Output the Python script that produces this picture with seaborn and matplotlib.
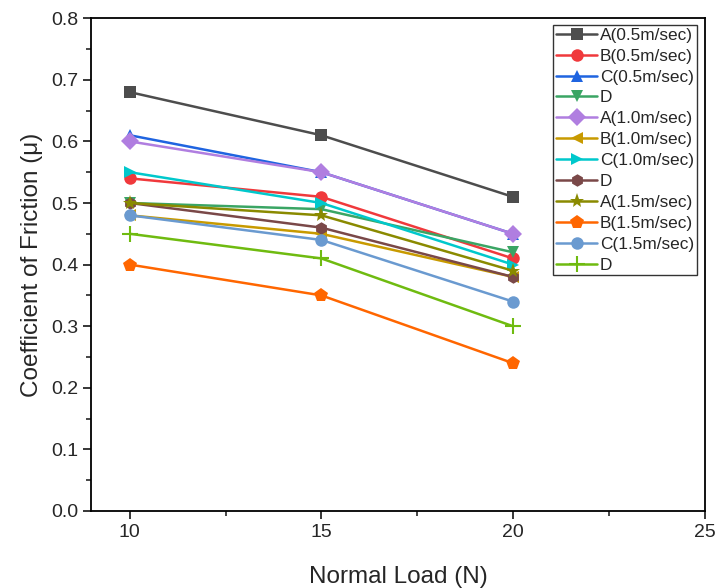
import pandas as pd
import matplotlib
matplotlib.use("Agg")
from matplotlib import pyplot as plt
import seaborn as sns

# chart data
loads = [10, 15, 20]
labels = ['A(0.5m/sec)', 'B(0.5m/sec)', 'C(0.5m/sec)', 'D',
          'A(1.0m/sec)', 'B(1.0m/sec)', 'C(1.0m/sec)', 'D',
          'A(1.5m/sec)', 'B(1.5m/sec)', 'C(1.5m/sec)', 'D']
a_05 = [0.68, 0.61, 0.51]
b_05 = [0.54, 0.51, 0.41]
c_05 = [0.61, 0.55, 0.45]
d_05 = [0.50, 0.49, 0.42]
a_10 = [0.60, 0.55, 0.45]
b_10 = [0.48, 0.45, 0.38]
c_10 = [0.55, 0.50, 0.40]
d_10 = [0.50, 0.46, 0.38]
a_15 = [0.50, 0.48, 0.39]
b_15 = [0.40, 0.35, 0.24]
c_15 = [0.48, 0.44, 0.34]
d_15 = [0.45, 0.41, 0.30]
series = [a_05, b_05, c_05, d_05, a_10, b_10, c_10, d_10, a_15, b_15, c_15, d_15]

colors = ['#4d4d4d', '#f0393c', '#1f64e0', '#3aa564', '#b07ee0', '#c89a00',
          '#00c8cc', '#7a4848', '#8a8a00', '#ff6600', '#6a9ad0', '#6fbb10']
markers = ['s', 'o', '^', 'v', 'D', '<', '>', 'h', '*', 'p', 'o', '+']
sizes = [8, 9, 9, 9, 9, 9, 9, 9, 11, 10, 9, 11]

sns.set_style("ticks")
plt.rcParams['font.family'] = ['Liberation Sans', 'DejaVu Sans']

fig = plt.figure(figsize=(7.17, 5.88), dpi=100)
ax = fig.add_axes([0.1276, 0.131, 0.855, 0.838])

for i, vals in enumerate(series):
    df = pd.DataFrame({'load': loads, 'cof': vals})
    sns.lineplot(data=df, x='load', y='cof', ax=ax, color=colors[i],
                 marker=markers[i], markersize=sizes[i], markeredgewidth=1.5 if markers[i] == '+' else 0,
                 markeredgecolor=colors[i], linewidth=1.8, label=labels[i])

ax.set_xlim(9, 25)
ax.set_ylim(0, 0.8)
ax.set_xticks([10, 15, 20, 25])
ax.set_xticks([12.5, 17.5, 22.5], minor=True)
ax.set_yticks([0.0, 0.1, 0.2, 0.3, 0.4, 0.5, 0.6, 0.7, 0.8])
ax.set_yticks([0.05 + 0.1 * k for k in range(8)], minor=True)
ax.yaxis.set_major_formatter(matplotlib.ticker.FormatStrFormatter('%.1f'))
ax.tick_params(which='major', direction='out', length=6, width=1.3, labelsize=14)
ax.tick_params(which='minor', direction='out', length=3.5, width=1.2)
for s in ax.spines.values():
    s.set_linewidth(1.3)
    s.set_color('black')

ax.set_xlabel('Normal Load (N)', fontsize=17.5, labelpad=18)
ax.set_ylabel('Coefficient of Friction (μ)', fontsize=17.5, labelpad=6)

leg = ax.legend(loc='upper right', fontsize=12.4, frameon=True, fancybox=False,
                edgecolor='black', labelspacing=0.34, handlelength=2.4,
                handletextpad=0.15, borderpad=0.15, borderaxespad=0,
                bbox_to_anchor=(0.987, 0.986))
leg.get_frame().set_linewidth(1.0)

fig.savefig('out.png', dpi=100)
